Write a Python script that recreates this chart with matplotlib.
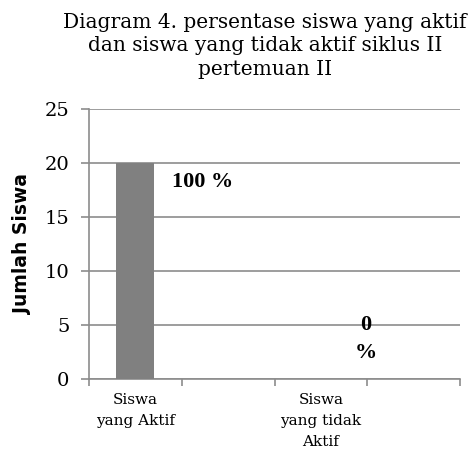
import matplotlib
matplotlib.use("Agg")
import matplotlib.pyplot as plt
import numpy as np

# Chart data
categories = ["Siswa\nyang Aktif", "", "Siswa\nyang tidak\nAktif", ""]
jumlah_siswa = [20, 0, 0, 0]
y_ticks = [0, 5, 10, 15, 20, 25]
title = "Diagram 4. persentase siswa yang aktif\ndan siswa yang tidak aktif siklus II\npertemuan II"

fig = plt.figure(figsize=(4.72, 4.59), dpi=100)
ax = fig.add_axes([89 / 472, 1 - 379 / 459, (460 - 89) / 472, (379 - 109) / 459])

x = np.arange(len(categories))
ax.bar(x, jumlah_siswa, width=0.41, color="#808080", zorder=3)

ax.set_xlim(-0.5, len(categories) - 0.5)
ax.set_ylim(0, 25)
ax.set_yticks(y_ticks)
ax.set_yticklabels([str(v) for v in y_ticks], family="DejaVu Serif", fontsize=14)
ax.grid(axis="y", color="#8c8c8c", linewidth=1.2, zorder=0)

# category labels centred, tick marks on the boundaries
ax.set_xticks(x)
ax.set_xticklabels(categories, family="DejaVu Serif", fontsize=11, linespacing=1.65)
ax.tick_params(axis="x", length=0, pad=10)
ax.set_xticks(np.arange(len(categories) + 1) - 0.5, minor=True)
ax.tick_params(axis="x", which="minor", length=5, color="#8c8c8c", width=1.2)
ax.tick_params(axis="y", length=6, color="#8c8c8c", width=1.2, pad=8)

for side in ["top", "right"]:
    ax.spines[side].set_visible(False)
for side in ["left", "bottom"]:
    ax.spines[side].set_color("#8c8c8c")
    ax.spines[side].set_linewidth(1.2)

ax.set_ylabel("Jumlah Siswa", family="DejaVu Sans", fontweight="bold", fontsize=13.5, labelpad=9)

# percentage labels
ax.text(0.72, 18.2, "100 %", family="Liberation Serif", fontweight="bold",
        fontsize=16, ha="center", va="center", zorder=4)
ax.text(2.48, 5.0, "0", family="Liberation Serif", fontweight="bold",
        fontsize=16, ha="center", va="center", zorder=4)
ax.text(2.48, 2.4, "%", family="Liberation Serif", fontweight="bold",
        fontsize=16, ha="center", va="center", zorder=4)

fig.text(0.561, 0.972, title, family="DejaVu Serif", fontsize=14.5,
         ha="center", va="top", linespacing=1.3)

fig.savefig("out.png", dpi=100)
